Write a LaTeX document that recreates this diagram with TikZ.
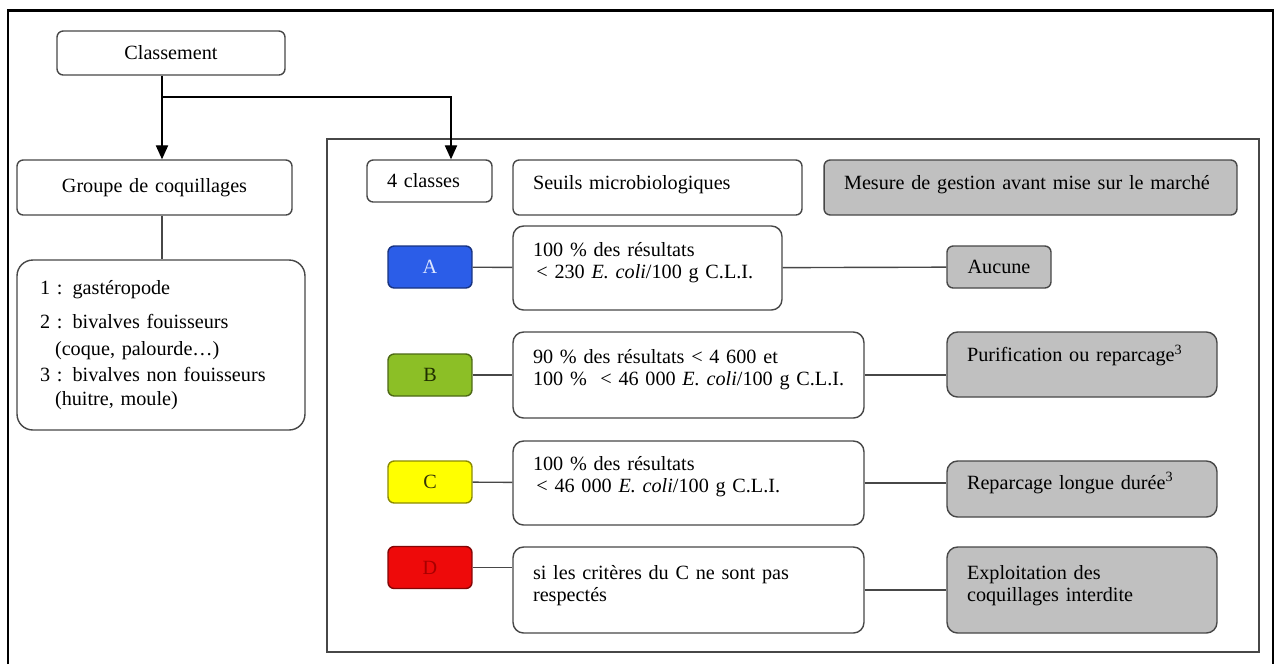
\documentclass[tikz,border=0pt]{standalone}
\usepackage{fontspec}
\setmainfont{Liberation Serif}
\usetikzlibrary{arrows.meta, positioning}
\definecolor{boxline}{HTML}{474747}
\definecolor{boxgrey}{HTML}{C0C0C0}
\definecolor{clA}{HTML}{2B5DE8}
\definecolor{clB}{HTML}{8CBF26}
\definecolor{clC}{HTML}{FFFF00}
\definecolor{clD}{HTML}{EE0A0A}
\definecolor{clAtxt}{HTML}{DCE6FF}
\definecolor{clBtxt}{HTML}{1F2E00}
\definecolor{clCtxt}{HTML}{33330A}
\definecolor{clDtxt}{HTML}{A80000}

\begin{document}
\begin{tikzpicture}[x=0.02cm, y=-0.02cm, font=\fontsize{11.5}{12.5}\selectfont,
  box/.style = {draw=boxline, line width=0.8pt, rounded corners=3.5pt, inner xsep=0.4cm, inner ysep=0pt, align=left},
  grey/.style = {box, fill=boxgrey},
  klass/.style = {box, fill=#1, draw=#1!55!black, text width=0.88cm, minimum height=0.84cm, align=center},
  link/.style = {draw=boxline, line width=0.8pt},
  arr/.style = {draw=black, line width=0.8pt, -{Triangle[length=8pt, width=7pt]}}]

  \useasboundingbox (0,0) rectangle (1274,664);
  \fill[white] (0,0) rectangle (1274,664);
  \draw[line width=1.7pt] (8,664) -- (8,10) -- (1273,10) -- (1273,664);
  \draw[boxline, line width=0.9pt] (327,139) rectangle (1259,652);

  \node[box, text width=3.76cm, minimum height=0.88cm, align=center] (cl) at (171,53) {Classement};
  \node[box, text width=4.7cm, minimum height=1.1cm, align=center] (grp) at (154.5,187.5) {Groupe de coquillages};
  \node[box, rounded corners=9pt, inner xsep=0.46cm, text width=4.84cm, minimum height=3.4cm] (lst) at (161,345)
    {1~: gastéropode\\[7pt]
     2~: bivalves fouisseurs\\[2.5pt]
     \hspace*{0.3cm}(coque, palourde…)\\[2.5pt]
     3~: bivalves non fouisseurs\\[1pt]
     \hspace*{0.3cm}(huitre, moule)};

  \node[box, text width=1.7cm, minimum height=0.84cm] (cls) at (429.5,181) {4 classes};
  \node[box, text width=4.98cm, minimum height=1.1cm, text depth=0.2cm] (seuil) at (657.5,187.5) {Seuils microbiologiques};
  \node[grey, text width=7.46cm, minimum height=1.1cm, text depth=0.2cm] (mes) at (1030.5,187.5) {Mesure de gestion avant mise sur le marché};

  \node[klass=clA, text=clAtxt] (A) at (430,267) {A};
  \node[klass=clB, text=clBtxt] (B) at (430,375) {B};
  \node[klass=clC, text=clCtxt] (C) at (430,482) {C};
  \node[klass=clD, text=clDtxt] (D) at (430,567.5) {D};

  \node[box, rounded corners=6pt, text width=4.58cm, minimum height=1.68cm, text depth=0.75cm] (critA) at (647.5,268)
    {100~\% des résultats\\\,<~230 \textit{E.~coli}/100~g C.L.I.};
  \node[box, rounded corners=6pt, text width=6.22cm, minimum height=1.72cm, text depth=0.75cm] (critB) at (688.5,375)
    {90~\% des résultats <~4~600 et\\\mbox{100~\%~~<~46~000 \textit{E.~coli}/100~g C.L.I.}};
  \node[box, rounded corners=6pt, text width=6.22cm, minimum height=1.68cm, text depth=0.79cm] (critC) at (688.5,483)
    {100~\% des résultats\\\,<~46~000 \textit{E.~coli}/100~g C.L.I.};
  \node[box, rounded corners=6pt, text width=6.22cm, minimum height=1.72cm, text depth=0.71cm] (critD) at (688.5,590)
    {si les critères du C ne sont pas\\respectés};

  \node[grey, text width=1.28cm, minimum height=0.84cm, align=center] (auc) at (999,267) {Aucune};
  \node[grey, rounded corners=6pt, text width=4.6cm, minimum height=1.3cm, text depth=0.45cm] (pur) at (1082,364.5) {Purification ou reparcage\textsuperscript{3}};
  \node[grey, rounded corners=6pt, text width=4.6cm, minimum height=1.12cm, text depth=0.32cm] (rep) at (1082,489) {Reparcage longue durée\textsuperscript{3}};
  \node[grey, rounded corners=6pt, text width=4.6cm, minimum height=1.72cm, text depth=0.71cm] (expl) at (1082,590) {Exploitation des\\coquillages interdite};

  \coordinate (split) at (162,97);
  \draw[arr] (split |- cl.south) -- (split |- grp.north);
  \draw[arr] (split) -| ([xshift=0.43cm]cls.north);
  \draw[link] (split |- grp.south) -- (split |- lst.north);

  \path[link]
  (A)     edge (critA)
  (critA) edge (auc)
  (B)     edge (critB)
  (C)     edge (critC)
  (critD) edge (expl);
  \draw[link] (critB.east) -- (critB.east -| pur.west);
  \draw[link] (critC.east) -- (critC.east -| rep.west);
  \draw[link] (D.east) -- (D.east -| critD.west);
\end{tikzpicture}
\end{document}
